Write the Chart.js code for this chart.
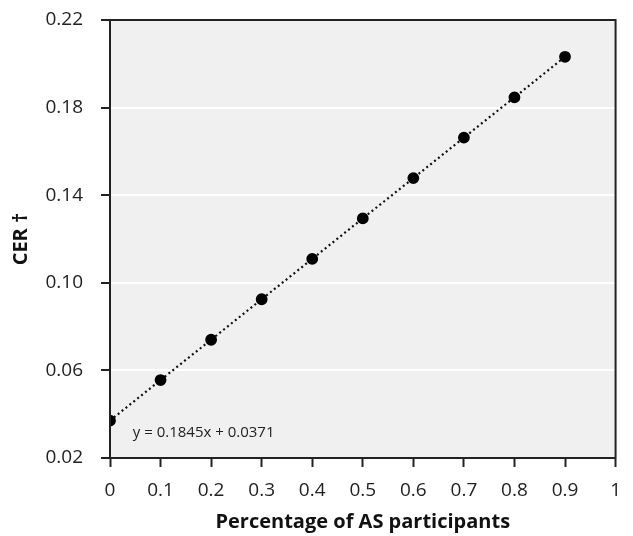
<!DOCTYPE html>
<html>
<head>
<meta charset="utf-8">
<script src="https://cdn.jsdelivr.net/npm/chart.js@4"></script>
<style>
  body { margin: 0; background: #fff; }
  #wrap { width: 633px; height: 536px; }
</style>
</head>
<body>
<div id="wrap"><canvas id="myChart" width="633" height="536"></canvas></div>
<script>
// AS share vs CER (fitted: y = 0.1845x + 0.0371)
var asShare = [0, 0.1, 0.2, 0.3, 0.4, 0.5, 0.6, 0.7, 0.8, 0.9];
var cerValues = [0.0371, 0.0556, 0.074, 0.0925, 0.1109, 0.1294, 0.1478, 0.1663, 0.1847, 0.2032];
var yTicks = [0.02, 0.06, 0.10, 0.14, 0.18, 0.22];
var xTicks = [0, 0.1, 0.2, 0.3, 0.4, 0.5, 0.6, 0.7, 0.8, 0.9, 1];
var equationText = "y = 0.1845x + 0.0371";

var points = asShare.map(function (x, i) {
  return { x: x, y: cerValues[i] };
});

// grey plot background + frame + equation label
var plotDecor = {
  id: "plotDecor",
  beforeDraw: function (chart) {
    var a = chart.chartArea;
    var ctx = chart.ctx;
    ctx.save();
    ctx.fillStyle = "#f0f0f0";
    ctx.fillRect(a.left, a.top, a.right - a.left, a.bottom - a.top);
    ctx.restore();
  },
  afterDatasetsDraw: function (chart) {
    var a = chart.chartArea;
    var ctx = chart.ctx;
    ctx.save();
    ctx.strokeStyle = "#222";
    ctx.lineWidth = 2;
    ctx.strokeRect(a.left, a.top, a.right - a.left, a.bottom - a.top);
    ctx.fillStyle = "#222";
    ctx.font = "15px 'Open Sans'";
    ctx.textBaseline = "middle";
    ctx.fillText(equationText, chart.scales.x.getPixelForValue(0.045), chart.scales.y.getPixelForValue(0.0315));
    ctx.restore();
  },
};

new Chart(document.getElementById("myChart").getContext("2d"), {
  type: "scatter",
  data: {
    datasets: [
      {
        data: points,
        showLine: true,
        borderColor: "#111",
        borderWidth: 2.2,
        borderDash: [2, 3],
        backgroundColor: "#000",
        pointBackgroundColor: "#000",
        pointBorderColor: "#000",
        pointRadius: 4.8,
        pointHoverRadius: 4.8,
      },
    ],
  },
  options: {
    responsive: false,
    animation: false,
    layout: { padding: { top: 20, right: 16, left: 0, bottom: 0 } },
    plugins: {
      legend: { display: false },
      tooltip: { enabled: false },
    },
    scales: {
      x: {
        type: "linear",
        min: 0,
        max: 1,
        afterBuildTicks: function (axis) {
          axis.ticks = xTicks.map(function (v) { return { value: v }; });
        },
        afterFit: function (axis) {
          axis.height = 78;
        },
        ticks: {
          color: "#222",
          font: { family: "'Open Sans'", size: 19 },
          padding: 12,
          callback: function (v) {
            return v === 0 ? "0" : v === 1 ? "1" : v.toFixed(1);
          },
        },
        grid: {
          drawOnChartArea: false,
          tickLength: 9,
          tickColor: "#222",
          tickWidth: 2,
        },
        border: { color: "#222", width: 2 },
        title: {
          display: true,
          text: "Percentage of AS participants",
          color: "#111",
          font: { family: "'Open Sans'", size: 20, weight: "bold" },
          padding: { top: 0, bottom: 2 },
        },
      },
      y: {
        type: "linear",
        min: 0.02,
        max: 0.22,
        afterBuildTicks: function (axis) {
          axis.ticks = yTicks.map(function (v) { return { value: v }; });
        },
        afterFit: function (axis) {
          axis.width = 110;
          axis.paddingTop = 0;
          axis.paddingBottom = 0;
        },
        ticks: {
          color: "#222",
          font: { family: "'Open Sans'", size: 19 },
          padding: 18,
          callback: function (v) {
            return v.toFixed(2);
          },
        },
        grid: {
          color: "#ffffff",
          lineWidth: 2,
          tickLength: 9,
          tickColor: "#222",
          tickWidth: 2,
        },
        border: { color: "#222", width: 2 },
        title: {
          display: true,
          text: "CER \u2020",
          color: "#111",
          font: { family: "'Open Sans'", size: 20, weight: "bold" },
          padding: { top: 9, bottom: 0 },
        },
      },
    },
  },
  plugins: [plotDecor],
});
</script>
</body>
</html>
